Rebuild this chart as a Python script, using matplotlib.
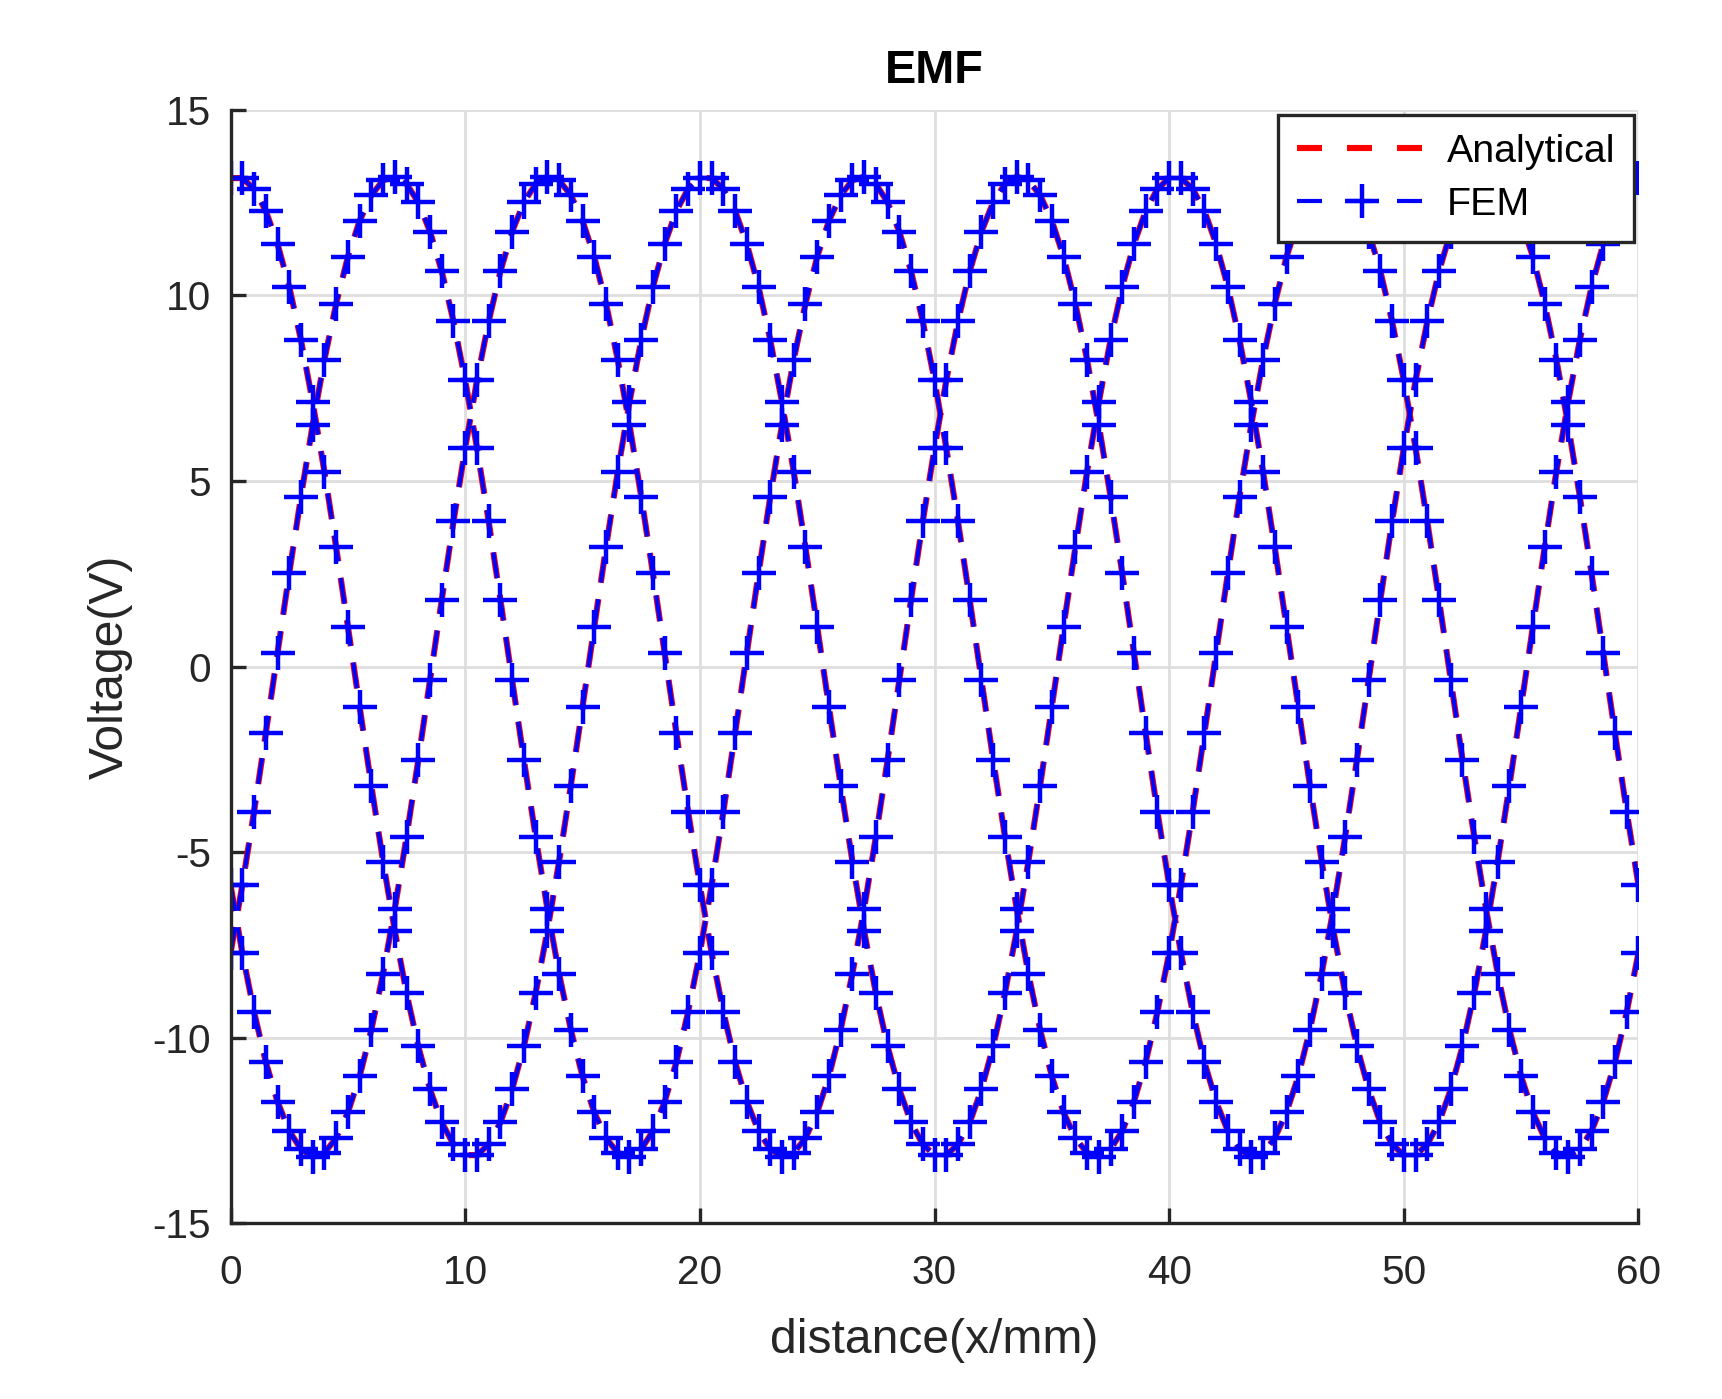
import matplotlib.pyplot as plt
from matplotlib.lines import Line2D

# sample positions (mm)
distance = [
    0, 0.5, 1, 1.5, 2, 2.5, 3, 3.5, 4, 4.5,
    5, 5.5, 6, 6.5, 7, 7.5, 8, 8.5, 9, 9.5,
    10, 10.5, 11, 11.5, 12, 12.5, 13, 13.5, 14, 14.5,
    15, 15.5, 16, 16.5, 17, 17.5, 18, 18.5, 19, 19.5,
    20, 20.5, 21, 21.5, 22, 22.5, 23, 23.5, 24, 24.5,
    25, 25.5, 26, 26.5, 27, 27.5, 28, 28.5, 29, 29.5,
    30, 30.5, 31, 31.5, 32, 32.5, 33, 33.5, 34, 34.5,
    35, 35.5, 36, 36.5, 37, 37.5, 38, 38.5, 39, 39.5,
    40, 40.5, 41, 41.5, 42, 42.5, 43, 43.5, 44, 44.5,
    45, 45.5, 46, 46.5, 47, 47.5, 48, 48.5, 49, 49.5,
    50, 50.5, 51, 51.5, 52, 52.5, 53, 53.5, 54, 54.5,
    55, 55.5, 56, 56.5, 57, 57.5, 58, 58.5, 59, 59.5,
    60]

# phase A EMF (V)
emf_a = [
    13.16, 13.16, 12.87, 12.28, 11.39, 10.23, 8.80, 7.12, 5.25, 3.21,
    1.08, -1.08, -3.21, -5.25, -7.12, -8.80, -10.23, -11.39, -12.28, -12.87,
    -13.16, -13.16, -12.87, -12.28, -11.39, -10.23, -8.80, -7.12, -5.25, -3.21,
    -1.08, 1.08, 3.21, 5.25, 7.12, 8.80, 10.23, 11.39, 12.28, 12.87,
    13.16, 13.16, 12.87, 12.28, 11.39, 10.23, 8.80, 7.12, 5.25, 3.21,
    1.08, -1.08, -3.21, -5.25, -7.12, -8.80, -10.23, -11.39, -12.28, -12.87,
    -13.16, -13.16, -12.87, -12.28, -11.39, -10.23, -8.80, -7.12, -5.25, -3.21,
    -1.08, 1.08, 3.21, 5.25, 7.12, 8.80, 10.23, 11.39, 12.28, 12.87,
    13.16, 13.16, 12.87, 12.28, 11.39, 10.23, 8.80, 7.12, 5.25, 3.21,
    1.08, -1.08, -3.21, -5.25, -7.12, -8.80, -10.23, -11.39, -12.28, -12.87,
    -13.16, -13.16, -12.87, -12.28, -11.39, -10.23, -8.80, -7.12, -5.25, -3.21,
    -1.08, 1.08, 3.21, 5.25, 7.12, 8.80, 10.23, 11.39, 12.28, 12.87,
    13.16]

# phase B EMF (V)
emf_b = [
    -5.89, -7.71, -9.30, -10.65, -11.72, -12.51, -13.00, -13.20, -13.10, -12.70,
    -12.01, -11.04, -9.78, -8.27, -6.52, -4.58, -2.51, -0.36, 1.80, 3.91,
    5.89, 7.71, 9.30, 10.65, 11.72, 12.51, 13.00, 13.20, 13.10, 12.70,
    12.01, 11.04, 9.78, 8.27, 6.52, 4.58, 2.51, 0.36, -1.80, -3.91,
    -5.89, -7.71, -9.30, -10.65, -11.72, -12.51, -13.00, -13.20, -13.10, -12.70,
    -12.01, -11.04, -9.78, -8.27, -6.52, -4.58, -2.51, -0.36, 1.80, 3.91,
    5.89, 7.71, 9.30, 10.65, 11.72, 12.51, 13.00, 13.20, 13.10, 12.70,
    12.01, 11.04, 9.78, 8.27, 6.52, 4.58, 2.51, 0.36, -1.80, -3.91,
    -5.89, -7.71, -9.30, -10.65, -11.72, -12.51, -13.00, -13.20, -13.10, -12.70,
    -12.01, -11.04, -9.78, -8.27, -6.52, -4.58, -2.51, -0.36, 1.80, 3.91,
    5.89, 7.71, 9.30, 10.65, 11.72, 12.51, 13.00, 13.20, 13.10, 12.70,
    12.01, 11.04, 9.78, 8.27, 6.52, 4.58, 2.51, 0.36, -1.80, -3.91,
    -5.89]

# phase C EMF (V)
emf_c = [
    -7.71, -5.89, -3.91, -1.80, 0.36, 2.51, 4.58, 6.52, 8.27, 9.78,
    11.04, 12.01, 12.70, 13.10, 13.20, 13.00, 12.51, 11.72, 10.65, 9.30,
    7.71, 5.89, 3.91, 1.80, -0.36, -2.51, -4.58, -6.52, -8.27, -9.78,
    -11.04, -12.01, -12.70, -13.10, -13.20, -13.00, -12.51, -11.72, -10.65, -9.30,
    -7.71, -5.89, -3.91, -1.80, 0.36, 2.51, 4.58, 6.52, 8.27, 9.78,
    11.04, 12.01, 12.70, 13.10, 13.20, 13.00, 12.51, 11.72, 10.65, 9.30,
    7.71, 5.89, 3.91, 1.80, -0.36, -2.51, -4.58, -6.52, -8.27, -9.78,
    -11.04, -12.01, -12.70, -13.10, -13.20, -13.00, -12.51, -11.72, -10.65, -9.30,
    -7.71, -5.89, -3.91, -1.80, 0.36, 2.51, 4.58, 6.52, 8.27, 9.78,
    11.04, 12.01, 12.70, 13.10, 13.20, 13.00, 12.51, 11.72, 10.65, 9.30,
    7.71, 5.89, 3.91, 1.80, -0.36, -2.51, -4.58, -6.52, -8.27, -9.78,
    -11.04, -12.01, -12.70, -13.10, -13.20, -13.00, -12.51, -11.72, -10.65, -9.30,
    -7.71]

xticks = [0, 10, 20, 30, 40, 50, 60]
yticks = [-15, -10, -5, 0, 5, 10, 15]

plt.rcParams['font.family'] = ['Liberation Sans', 'DejaVu Sans']
plt.rcParams['lines.scale_dashes'] = False
plt.rcParams['axes.unicode_minus'] = False

fig = plt.figure(figsize=(8.61, 6.995), dpi=200)
ax = fig.add_axes([0.1339, 0.1255, 0.8176, 0.796])

dash = (0, (9.4, 6.0))
curves = [emf_a, emf_b, emf_c]

# analytical (red) under the FEM (blue)
for y in curves:
    ax.plot(distance, y, color='#ff0000', lw=2.2, linestyle=dash)
for y in curves:
    ax.plot(distance, y, color='#0000ff', lw=1.5, linestyle=dash,
            marker='+', ms=12, mew=1.6)

ax.set_xlim(0, 60)
ax.set_ylim(-15, 15)
ax.set_xticks(xticks)
ax.set_yticks(yticks)
ax.grid(True, color='#dedede', lw=1.0)
ax.set_axisbelow(True)

for s in ['top', 'right']:
    ax.spines[s].set_visible(False)
for s in ['left', 'bottom']:
    ax.spines[s].set_color('#262626')
    ax.spines[s].set_linewidth(1.2)

ax.tick_params(direction='in', length=5.4, width=1.2, color='#262626',
               labelcolor='#262626', labelsize=14.6)
ax.tick_params(axis='x', pad=11)
ax.tick_params(axis='y', pad=7)

ax.set_title('EMF', fontsize=16.9, fontweight='bold', pad=9.5)
ax.set_xlabel('distance(x/mm)', fontsize=17.3, color='#262626', labelpad=9.5)
ax.set_ylabel('Voltage(V)', fontsize=17.3, color='#262626', labelpad=7)

# legend keys with the wider MATLAB-style dash spacing
leg_dash = (0, (9.0, 9.0))
h_ana = Line2D([], [], color='#ff0000', lw=2.2, linestyle=leg_dash)
h_fem = Line2D([], [], color='#0000ff', lw=1.5, linestyle=leg_dash,
               marker='+', ms=12, mew=1.6)
leg = ax.legend([h_ana, h_fem], ['Analytical', 'FEM'],
                loc='upper right', bbox_to_anchor=(0.9969, 0.9951),
                borderaxespad=0, fontsize=14.2, handlelength=3.3,
                handletextpad=0.5, labelspacing=0.42, borderpad=0.48,
                fancybox=False, framealpha=1, edgecolor='#262626')
leg.get_frame().set_linewidth(1.2)

fig.savefig('out.png', dpi=200)
